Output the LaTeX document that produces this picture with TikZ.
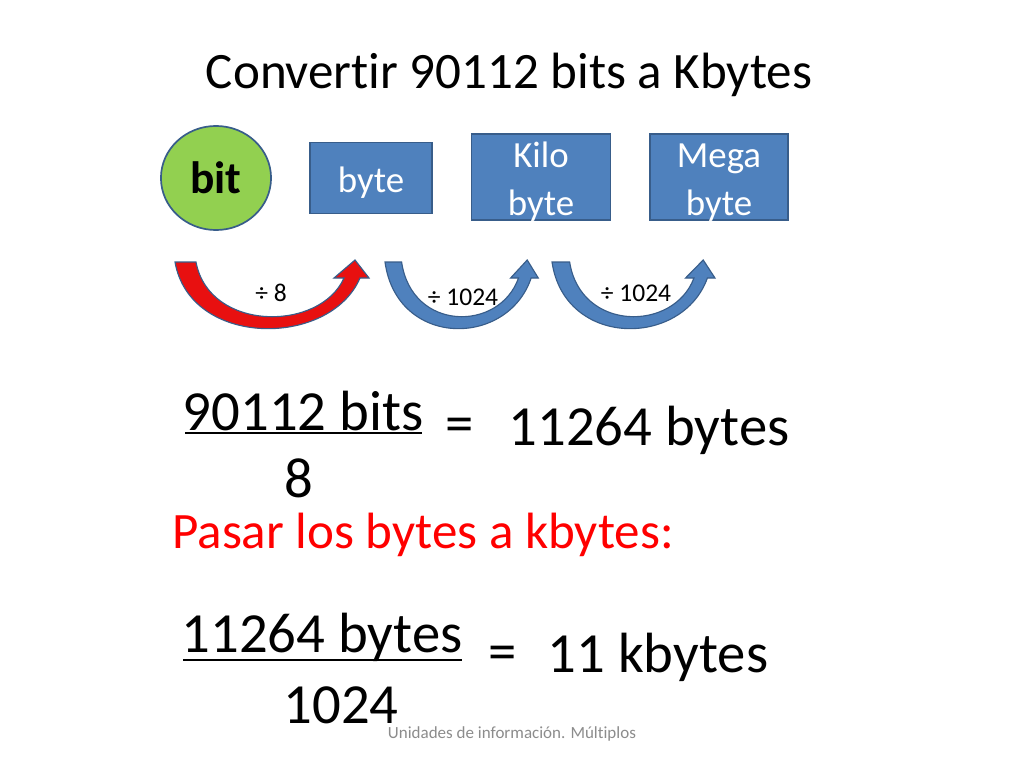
\documentclass[tikz,border=0pt]{standalone}
\usepackage{fontspec}
\setmainfont[Ligatures=NoCommon]{Carlito}
\usetikzlibrary{positioning, shapes.geometric}
\definecolor{boxblue}{HTML}{4F81BD}
\definecolor{boxline}{HTML}{385D8A}
\definecolor{bitgreen}{HTML}{92D050}
\definecolor{arrred}{HTML}{E81010}
\definecolor{footgray}{HTML}{8C8C8C}
% box text, set a little below the centre
\newcommand{\boxtext}[1]{\raisebox{-9.5pt}[0pt][0pt]{\begin{tabular}{@{}c@{}}#1\end{tabular}}}
% curved up arrow: tail x, x scale, fill colour
\newcommand{\curvedup}[3]{%
  \begin{scope}[shift={(#1,262)}, xscale=#2]
    \filldraw[fill=#3, draw=boxline, line width=0.8pt]
      (0,0) .. controls (15,86) and (155,86) .. (185,16) -- (194,16) -- (180,-2)
      -- (159,16) -- (169,16) .. controls (145,70) and (34,70) .. (21,0) -- cycle;
  \end{scope}}

\begin{document}
\begin{tikzpicture}[x=0.0248cm, y=-0.0248cm,
                unitbox/.style={draw=boxline, line width=1pt, fill=boxblue, text=white, inner sep=0pt,
                    font=\fontsize{26}{34}\selectfont},
                bitnode/.style={ellipse, draw=boxline, line width=1.2pt, fill=bitgreen,
                    minimum width=2.73cm, minimum height=2.58cm, font=\fontsize{32}{34}\selectfont\bfseries},
                steplabel/.style={font=\fontsize{18}{20}\selectfont},
                big/.style={font=\fontsize{40}{44}\selectfont, inner sep=0pt},
                fracline/.style={line width=1.6pt}]
\useasboundingbox[fill=white] (0,0) rectangle (1024,768);

\node[font=\fontsize{36}{40}\selectfont] (title) at (509,75) {Convertir 90112 bits a Kbytes};

% units
\node[bitnode] (bit) at (216,178) {bit};
\node[unitbox, minimum width=3.03cm, minimum height=1.76cm] (byte) at (371,178) {\boxtext{byte}};
\node[unitbox, minimum width=3.45cm, minimum height=2.13cm] (kilo) at (541,177) {\boxtext{Kilo\\byte}};
\node[unitbox, minimum width=3.42cm, minimum height=2.13cm] (mega) at (719,177) {\boxtext{Mega\\byte}};

% division arrows
\curvedup{175}{1}{arrred}
\curvedup{385}{0.79}{boxblue}
\curvedup{552}{0.84}{boxblue}
\node[steplabel] (div8) at (271,293) {÷ 8};
\node[steplabel] (divk) at (463,297) {÷ 1024};
\node[steplabel] (divm) at (636,293) {÷ 1024};

% first step
\node[big] (bitsnum) at (303,411) {90112 bits};
\draw[fracline] (185,433) -- (422,433);
\node[big] (bitsden) at (299,478) {8};
\node[big] (eqone) at (460,430) {=};
\node[big] (bytesres) at (649,430) {11264 bytes};

\node[big, font=\fontsize{36}{40}\selectfont, text=red, anchor=west] (pasar) at (172,535) {Pasar los bytes a kbytes:};

% second step
\node[big] (bytesnum) at (322,637) {11264 bytes};
\draw[fracline] (183,660) -- (462,660);
\node[big] (bytesden) at (341,705) {1024};
\node[big] (eqtwo) at (503,658) {=};
\node[big] (kbres) at (658,657) {11 kbytes};

\node[font=\fontsize{12}{14}\selectfont, text=footgray] (foot) at (512,734) {Unidades de información. Múltiplos};
\end{tikzpicture}
\end{document}
